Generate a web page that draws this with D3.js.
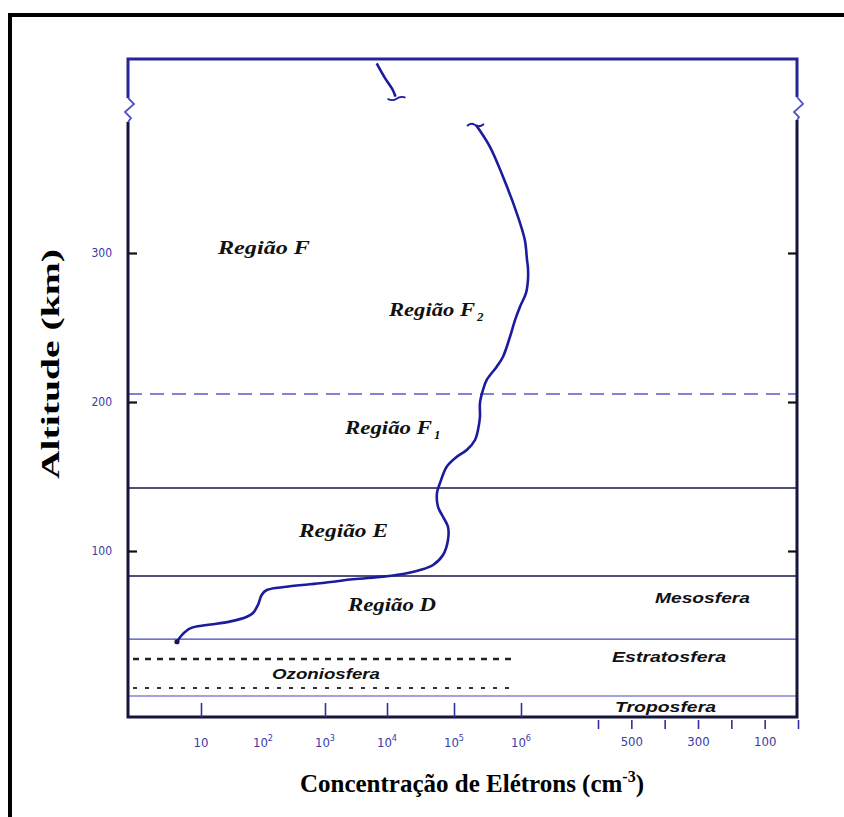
<!DOCTYPE html>
<html><head><meta charset="utf-8">
<script src="https://cdn.jsdelivr.net/npm/d3@7"></script>
<style>body{margin:0;background:#fff} svg{display:block}</style>
</head><body>
<svg id="c" width="844" height="817"></svg>
<script>
// ---------- DATA ----------
// electron density profile (cm^-3) vs altitude (km), main (lower) segment
const concentration = [4.1,4.9,6.7,12.4,29,55,69,83,95,115,241,830,2830,8600,17300,31100,48600,68500,81300,81300,68500,57700,55700,61800,77800,110000,155000,206000,228000,244000,244000,271000,308000,434000,539000,685000,814000,967000,1190000,1270000,1270000,1230000,1140000,863000,539000,344000,213000];
const altitude = [39.1,43.6,48.1,50.3,52.6,55.9,58.4,63.8,70.5,73.8,76.0,78.3,81.0,82.8,84.6,87.2,90.6,97.3,107.4,116.3,123.0,129.7,138.9,145.6,156.6,163.3,167.8,174.5,181.2,190.1,199.3,208.1,214.8,223.7,230.4,243.8,255.0,264.0,273.2,281.9,289.9,295.3,308.7,326.8,351.2,371.3,385.9];
// upper segment (above axis break)
const upperConcentration = [6820,9290,12200,13400];
const upperAltitude = [427.3,417.4,409.4,404.9];

// layer boundaries (km)
const boundaryNames = ["F1/F2","E/F","D/E","Mesosfera/Estratosfera","Ozônio topo","Ozônio base","Tropopausa"];
const boundaryAltitudes = [205.4,142.3,83.2,40.9,27.5,8.1,2.7];

// ticks
const altitudeTicks = [100,200,300];
const concentrationLabelValues = [10,100,1000,10000,100000,1000000];
const concentrationLabelExponents = ["","2","3","4","5","6"];
const concentrationTickValues = [10,1000,10000,100000,1000000];
const secondaryTickValues = [0,100,200,300,400,500,600];
const secondaryLabelValues = [500,300,100];

const regionLabels = ["Região F","Região F","Região F","Região E","Região D"];
const regionSubs = ["","2","1","",""];
const zoneLabels = ["Mesosfera","Estratosfera","Ozoniosfera","Troposfera"];

// ---------- LAYOUT ----------
const L = 128, R = 797, T = 59, B = 717;
const svg = d3.select("#c");
const navy = "#25259a", curveCol = "#1b1b9e", lab = "#3a3aa8";

const x = d3.scaleLog().domain([10,1e3,1e4,1e5,1e6]).range([201,325,387,454,521]);
const y = d3.scaleLinear().domain([100,300]).range([551,253]);
const r = d3.scaleLinear().domain([0,600]).range([798,598]);

// outer frame
svg.append("path").attr("d","M10,817 V15 H844").attr("fill","none").attr("stroke","#000").attr("stroke-width",4);

// boundary lines
const bstyle = [
  {c:"#5a5ac8",w:1.6,d:"14,8"},
  {c:"#15154a",w:1.6,d:null},
  {c:"#15154a",w:1.6,d:null},
  {c:"#4646c0",w:1.2,d:null},
  null,null,
  {c:"#4646c0",w:1.2,d:null}
];
boundaryAltitudes.forEach((a,i)=>{
  const s = bstyle[i];
  if(!s) return;
  const ln = svg.append("line").attr("x1",L).attr("x2",R).attr("y1",y(a)).attr("y2",y(a))
    .attr("stroke",s.c).attr("stroke-width",s.w);
  if(s.d) ln.attr("stroke-dasharray",s.d);
});
// ozone layer dotted lines
svg.append("line").attr("x1",133).attr("x2",517).attr("y1",y(boundaryAltitudes[4])).attr("y2",y(boundaryAltitudes[4]))
  .attr("stroke","#222").attr("stroke-width",2.6).attr("stroke-dasharray","6,6");
svg.append("line").attr("x1",133).attr("x2",517).attr("y1",y(boundaryAltitudes[5])).attr("y2",y(boundaryAltitudes[5]))
  .attr("stroke","#333").attr("stroke-width",2).attr("stroke-dasharray","4,8")
  .attr("transform",`translate(0,0)`);

// plot frame
svg.append("path").attr("d",`M${L},98 V${T} H${R} V97`).attr("fill","none").attr("stroke",navy).attr("stroke-width",3);
svg.append("path").attr("d",`M${L},122 V${B} H${R} V120`).attr("fill","none").attr("stroke","#14143c").attr("stroke-width",3);
// axis break marks
svg.append("path").attr("d",`M${L},98 L${L+6},104 L${L-3},112 L${L+3},118 L${L},122`).attr("fill","none").attr("stroke","#5050c8").attr("stroke-width",1.8);
svg.append("path").attr("d",`M${R},97 L${R+6},104 L${R-3},112 L${R+2},117 L${R},120`).attr("fill","none").attr("stroke","#5050c8").attr("stroke-width",1.8);

// left axis ticks & labels
const axL = svg.append("g").attr("transform",`translate(${L},0)`)
  .call(d3.axisLeft(y).tickValues(altitudeTicks).tickSize(-9).tickPadding(16).tickFormat(d3.format("d")));
axL.select(".domain").remove();
axL.selectAll("line").attr("stroke","#111").attr("stroke-width",2.2);
axL.selectAll("text").attr("fill",lab).attr("font-family","'Liberation Sans Narrow','DejaVu Sans Condensed',sans-serif").attr("font-size",12);
// right axis ticks
const axR = svg.append("g").attr("transform",`translate(${R},0)`)
  .call(d3.axisRight(y).tickValues(altitudeTicks).tickSize(-9).tickFormat(""));
axR.select(".domain").remove();
axR.selectAll("line").attr("stroke","#111").attr("stroke-width",2.2);

// bottom log axis (ticks inside)
const axB = svg.append("g").attr("transform",`translate(0,${B})`)
  .call(d3.axisBottom(x).tickValues(concentrationTickValues).tickSize(-14).tickFormat(""));
axB.select(".domain").remove();
axB.selectAll("line").attr("stroke","#3030a0").attr("stroke-width",1.6);
const bl = svg.append("g").attr("font-family","'Liberation Sans Narrow','DejaVu Sans Condensed',sans-serif").attr("fill",lab);
concentrationLabelValues.forEach((v,i)=>{
  const t = bl.append("text").attr("x",x(v)).attr("y",747).attr("text-anchor","middle").attr("font-size",13);
  t.append("tspan").text("10");
  if(concentrationLabelExponents[i]) t.append("tspan").attr("dy",-6).attr("font-size",9).text(concentrationLabelExponents[i]);
});
// secondary bottom scale
const axS = svg.append("g").attr("transform",`translate(0,${B+3})`)
  .call(d3.axisBottom(r).tickValues(secondaryTickValues).tickSize(9).tickPadding(8)
    .tickFormat(d=>secondaryLabelValues.includes(d)?d:""));
axS.select(".domain").remove();
axS.selectAll("line").attr("stroke","#3030a0").attr("stroke-width",1.6);
axS.selectAll("text").attr("fill",lab).attr("font-family","'Liberation Sans Narrow','DejaVu Sans Condensed',sans-serif").attr("font-size",13);

// profile curve
const line = d3.line().x(d=>x(d[0])).y(d=>y(d[1])).curve(d3.curveCatmullRom.alpha(0.5));
const lower = concentration.map((c,i)=>[c,altitude[i]]);
const upper = upperConcentration.map((c,i)=>[c,upperAltitude[i]]);
svg.append("path").attr("d",line(lower)).attr("fill","none").attr("stroke",curveCol).attr("stroke-width",2.6).attr("stroke-linejoin","round");
svg.append("path").attr("d",line(upper)).attr("fill","none").attr("stroke",curveCol).attr("stroke-width",2.6);
// break tildes at curve ends
const e1 = lower[lower.length-1], e2 = upper[upper.length-1];
svg.append("path").attr("d",`M${x(e1[0])-9},${y(e1[1])+1} q4,-4 8,-1 t9,-1`).attr("fill","none").attr("stroke",curveCol).attr("stroke-width",1.8);
svg.append("path").attr("d",`M${x(e2[0])-8},${y(e2[1])+2} q5,3 9,0 t9,-1`).attr("fill","none").attr("stroke",curveCol).attr("stroke-width",1.8);
svg.append("circle").attr("cx",x(lower[0][0])).attr("cy",y(lower[0][1])).attr("r",2.6).attr("fill","#151560");

// region labels
const rl = svg.append("g").attr("font-family","'Liberation Serif','Times New Roman',serif").attr("font-weight","bold").attr("font-style","italic").attr("fill","#111");
const rpos = [[218,254,92],[389,316,86],[345,434,87],[299,537,89],[348,611,88]];
regionLabels.forEach((s,i)=>{
  const p = rpos[i];
  rl.append("text").attr("x",p[0]).attr("y",p[1]).attr("font-size",18).attr("textLength",p[2]).attr("lengthAdjust","spacingAndGlyphs").text(s);
  if(regionSubs[i]) rl.append("text").attr("x",p[0]+p[2]+2).attr("y",p[1]+5).attr("font-size",13).text(regionSubs[i]);
});
// zone labels
const zl = svg.append("g").attr("font-family","'Liberation Sans',Arial,sans-serif").attr("font-weight","bold").attr("font-style","italic").attr("fill","#111");
const zpos = [[655,603,95],[612,662,114],[272,679,108],[615,712,101]];
zoneLabels.forEach((s,i)=>{
  const p = zpos[i];
  zl.append("text").attr("x",p[0]).attr("y",p[1]).attr("font-size",14).attr("textLength",p[2]).attr("lengthAdjust","spacingAndGlyphs").text(s);
});

// axis titles
const xt = svg.append("text").attr("x",472).attr("y",792).attr("text-anchor","middle")
  .attr("font-family","'Liberation Serif','Times New Roman',serif").attr("font-weight","bold").attr("font-size",25).attr("fill","#000");
xt.append("tspan").text("Concentração de Elétrons (cm");
xt.append("tspan").attr("dy",-10).attr("font-size",16).text("-3");
xt.append("tspan").attr("dy",10).text(")");
svg.append("text").attr("transform","translate(59,364) rotate(-90)").attr("text-anchor","middle")
  .attr("font-family","'Liberation Serif','Times New Roman',serif").attr("font-weight","bold").attr("font-size",26)
  .attr("textLength",230).attr("lengthAdjust","spacingAndGlyphs").attr("fill","#000").text("Altitude (km)");
</script>
</body></html>
